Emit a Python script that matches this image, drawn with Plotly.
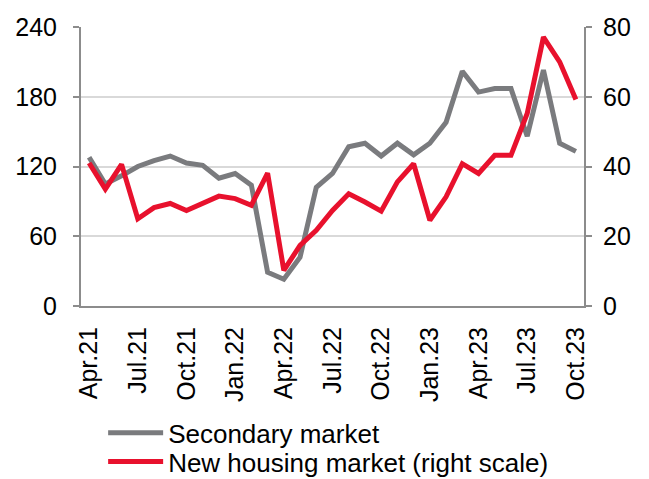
import plotly.graph_objs as go

# monthly, Apr.21 .. Oct.23
months = ['Apr.21', 'May.21', 'Jun.21', 'Jul.21', 'Aug.21', 'Sep.21', 'Oct.21', 'Nov.21', 'Dec.21',
          'Jan.22', 'Feb.22', 'Mar.22', 'Apr.22', 'May.22', 'Jun.22', 'Jul.22', 'Aug.22', 'Sep.22',
          'Oct.22', 'Nov.22', 'Dec.22', 'Jan.23', 'Feb.23', 'Mar.23', 'Apr.23', 'May.23', 'Jun.23',
          'Jul.23', 'Aug.23', 'Sep.23', 'Oct.23']

secondary = [128, 105, 112, 120, 125, 129, 123, 121, 110, 114, 104, 29, 23, 42, 102, 114,
             137, 140, 129, 140, 130, 140, 158, 202, 184, 187, 187, 146, 203, 140, 133]

new_housing = [41, 33.5, 40.6, 25, 28.2, 29.4, 27.4, 29.4, 31.5, 30.8, 28.9, 38.1, 10.2, 17.4,
               21.7, 27.4, 32.2, 29.8, 27.2, 35.6, 40.8, 24.6, 31.3, 40.8, 38, 43.2, 43.2,
               55.2, 77.1, 70, 59.2]

GRAY = '#7a7b7e'
RED = '#e8112d'
AXIS = '#8c8c8c'
FONT = dict(family='Liberation Sans, Arial, sans-serif', size=25, color='#000000')
LEGEND_FONT = dict(FONT, size=26)

n = len(months)
label_idx = list(range(0, n, 3))
x = list(range(n))

data = [
    go.Scatter(x=x, y=secondary, name='Secondary market', mode='lines',
               line=dict(color=GRAY, width=5), legend='legend'),
    go.Scatter(x=x, y=new_housing, name='New housing market (right scale)', mode='lines',
               line=dict(color=RED, width=5), yaxis='y2', legend='legend2'),
]

# two single-entry legends so the rows can sit closer than plotly's default spacing
legend_style = dict(x=0.044, xanchor='left', yanchor='middle', font=LEGEND_FONT,
                    bgcolor='rgba(0,0,0,0)', itemwidth=55)

layout = go.Layout(
    width=641, height=471,
    margin=dict(l=73, r=65, t=19, b=173, autoexpand=False),
    paper_bgcolor='white', plot_bgcolor='white',
    font=FONT,
    showlegend=True,
    legend=dict(y=-0.455, **legend_style),
    legend2=dict(y=-0.558, **legend_style),
    xaxis=dict(
        range=[-0.5, n - 0.5],
        tickvals=label_idx,
        ticktext=[months[i] for i in label_idx],
        tickangle=-90,
        ticks='',
        showgrid=False, zeroline=False,
        showline=True, linecolor=AXIS, linewidth=2,
        ticklabelstandoff=9,
        automargin=False,
    ),
    # boundary tick marks between categories
    xaxis2=dict(
        overlaying='x', anchor='y',
        range=[-0.5, n - 0.5],
        tickvals=[i - 0.5 for i in label_idx],
        ticks='outside', ticklen=6, tickwidth=2, tickcolor=AXIS,
        showticklabels=False, showgrid=False, zeroline=False, showline=False,
        automargin=False,
    ),
    yaxis=dict(
        range=[0, 240], dtick=60,
        ticks='outside', ticklen=6, tickwidth=2, tickcolor=AXIS,
        showline=True, linecolor=AXIS, linewidth=2,
        showgrid=True, gridcolor='#d9d9d9', gridwidth=1.5,
        zeroline=False,
        ticklabelstandoff=11,
        automargin=False,
    ),
    yaxis2=dict(
        range=[0, 80], dtick=20,
        overlaying='y', side='right',
        ticks='outside', ticklen=6, tickwidth=2, tickcolor=AXIS,
        showline=True, linecolor=AXIS, linewidth=2,
        showgrid=False, zeroline=False,
        ticklabelstandoff=6,
        automargin=False,
    ),
)

fig = go.Figure(data=data, layout=layout)
fig.write_html('out.html')
